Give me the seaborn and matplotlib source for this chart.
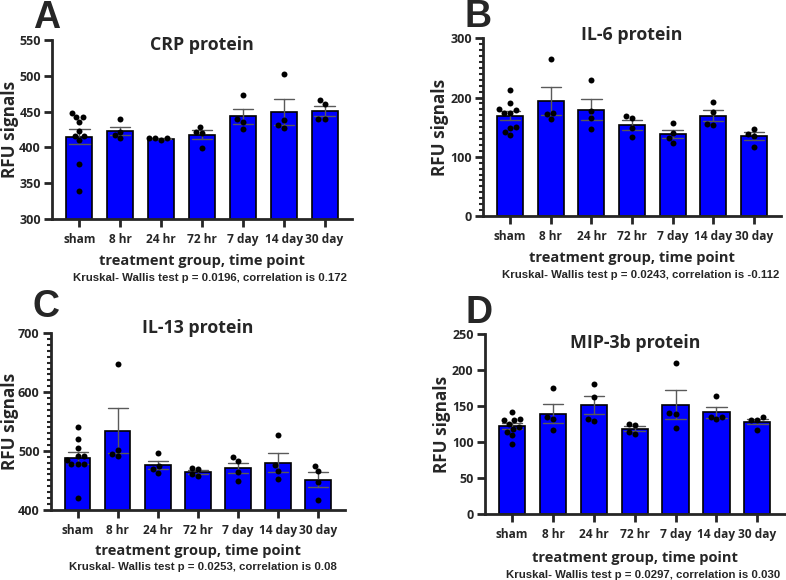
import numpy as np
import pandas as pd
import matplotlib
matplotlib.use("Agg")
import matplotlib.pyplot as plt
from matplotlib.ticker import MultipleLocator
import seaborn as sns

sns.set_style("ticks")
plt.rcParams["font.family"] = ["Open Sans", "DejaVu Sans"]

groups = ["sham", "8 hr", "24 hr", "72 hr", "7 day", "14 day", "30 day"]

# values, one list per group
crp_values = [
    [448, 442, 442, 435, 422.5, 416, 416, 410, 377, 339.5],
    [439, 422, 413.5, 417],
    [411, 413, 412.5, 412.5],
    [422, 428.5, 420.5, 399.6],
    [473.6, 439.7, 436, 425],
    [502.5, 438, 427, 431],
    [460, 465.8, 439, 440],
]
il6_values = [
    [212.4, 191.5, 179.7, 180, 174.6, 174.6, 149, 151, 136, 141],
    [265, 174.6, 171.7, 163.7],
    [229, 176.8, 166, 146.8],
    [165, 169.5, 149, 132.7],
    [157, 140, 132, 124],
    [192, 175.6, 153.6, 154.7],
    [147.5, 139, 135, 115.8],
]
il13_values = [
    [541, 520.7, 505.4, 491.8, 490.8, 484, 477.2, 477.2, 477.2, 420.4],
    [648.3, 501.5, 490.8, 495.2],
    [496.4, 474.3, 469.7, 463],
    [470, 471.5, 460.2, 457],
    [482.8, 489, 463.6, 448.3],
    [526.5, 475.5, 466.3, 451.7],
    [474.3, 465.3, 446.6, 417],
]
mip3b_values = [
    [142, 132, 131, 131, 126, 121, 119, 115, 110, 97],
    [175.7, 135, 132.3, 116.9],
    [180.8, 162.7, 130, 132.3],
    [124, 125.3, 111.9, 114.7],
    [210.6, 140.7, 138.7, 119.7],
    [164, 132.3, 135, 135],
    [134.7, 131.5, 131.5, 117.5],
]

titles = ["CRP protein", "IL-6 protein", "IL-13 protein", "MIP-3b protein"]
letters = ["A", "B", "C", "D"]
notes = [
    "Kruskal- Wallis test p = 0.0196, correlation is 0.172",
    "Kruskal- Wallis test p = 0.0243, correlation is -0.112",
    "Kruskal- Wallis test p = 0.0253, correlation is 0.08",
    "Kruskal- Wallis test p = 0.0297, correlation is 0.030",
]
ylims = [(300, 550), (0, 300), (400, 700), (0, 250)]
ysteps = [50, 100, 100, 50]
yminor = [None, 10, 10, None]

W, H = 786, 580
fig = plt.figure(figsize=(W / 100, H / 100), dpi=100)

# axes boxes in pixels: left, top, right, bottom
boxes = [(52, 40, 352, 219), (483, 38.3, 781, 216),
         (50.7, 333.3, 345, 509.7), (484.7, 334.3, 784.7, 514.3)]
title_y = [45, 35, 328.3, 343.3]
letter_xy = [(47, 18), (478, 17), (46, 307), (479, 313)]
ylabel_x = [10.5, 440, 10.5, 442]
xlabel_y = [261, 258, 551, 558]
note_xy = [(210, 278), (641, 275), (202.5, 566.7), (643, 575)]

panels = [crp_values, il6_values, il13_values, mip3b_values]

for i, vals in enumerate(panels):
    l, t, r, b = boxes[i]
    ax = fig.add_axes([l / W, 1 - b / H, (r - l) / W, (b - t) / H])
    df = pd.DataFrame({
        "group": [g for g, v in zip(groups, vals) for _ in v],
        "value": [x for v in vals for x in v],
    })
    sns.barplot(data=df, x="group", y="value", order=groups, errorbar="se",
                capsize=0.5, color="#0000ff", saturation=1, width=0.64,
                edgecolor="black", linewidth=1.2,
                err_kws={"color": "#5a5a5a", "linewidth": 1.0}, ax=ax)
    sns.swarmplot(data=df, x="group", y="value", order=groups, color="black",
                  size=4.3, ax=ax)
    ax.set_ylim(*ylims[i])
    ax.set_xlim(-0.67, 6.67)
    ax.yaxis.set_major_locator(MultipleLocator(ysteps[i]))
    if yminor[i]:
        ax.yaxis.set_minor_locator(MultipleLocator(yminor[i]))
        ax.tick_params(axis="y", which="minor", length=3, width=1.5)
    sns.despine(ax=ax)
    for s in ["left", "bottom"]:
        ax.spines[s].set_linewidth(2)
    ax.tick_params(axis="y", which="major", length=6, width=2,
                   labelsize=9, pad=2)
    ax.tick_params(axis="x", length=6, width=2, labelsize=8.6, pad=4)
    for lab in ax.get_xticklabels() + ax.get_yticklabels():
        lab.set_fontweight("bold")
    ax.set_xlabel("")
    ax.set_ylabel("")

    cx = (l + r) / 2
    cy = (t + b) / 2
    fig.text(ylabel_x[i] / W, 1 - cy / H, "RFU signals", rotation=90,
             ha="center", va="center", fontsize=12.3, fontweight="bold")
    fig.text(cx / W, 1 - title_y[i] / H, titles[i], ha="center", va="center",
             fontsize=12.8, fontweight="bold")
    fig.text(letter_xy[i][0] / W, 1 - letter_xy[i][1] / H, letters[i],
             ha="center", va="center", fontsize=27, fontweight="bold",
             family="Liberation Sans")
    fig.text(cx / W, 1 - xlabel_y[i] / H, "treatment group, time point",
             ha="center", va="center", fontsize=10.5, fontweight="bold")
    fig.text(note_xy[i][0] / W, 1 - note_xy[i][1] / H, notes[i],
             ha="center", va="center", fontsize=8.2, fontweight="bold",
             family="Liberation Sans")

fig.savefig("out.png", dpi=100)
